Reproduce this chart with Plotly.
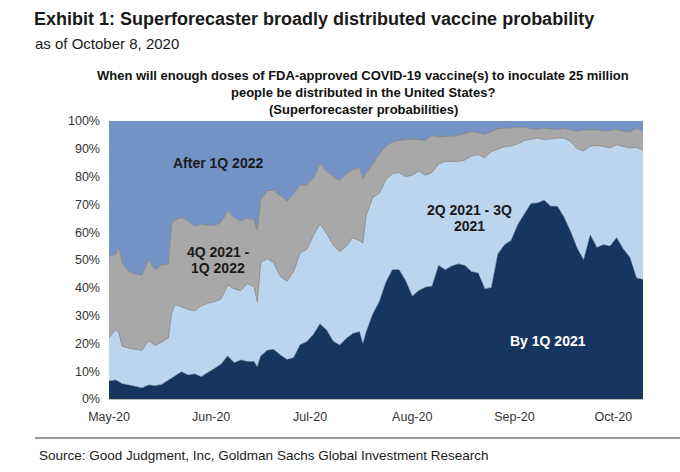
import plotly.graph_objects as go

# ---- data ----
dates = [
    "2020-05-01", "2020-05-03", "2020-05-04", "2020-05-05", "2020-05-07", "2020-05-09",
    "2020-05-11", "2020-05-13", "2020-05-15", "2020-05-17", "2020-05-19", "2020-05-20",
    "2020-05-21", "2020-05-23", "2020-05-25", "2020-05-27", "2020-05-29", "2020-05-31",
    "2020-06-02", "2020-06-04", "2020-06-06", "2020-06-08", "2020-06-10", "2020-06-12",
    "2020-06-14", "2020-06-15", "2020-06-16", "2020-06-18", "2020-06-20", "2020-06-22",
    "2020-06-24", "2020-06-26", "2020-06-28", "2020-06-30", "2020-07-02", "2020-07-04",
    "2020-07-06", "2020-07-08", "2020-07-10", "2020-07-12", "2020-07-14", "2020-07-16",
    "2020-07-17", "2020-07-18", "2020-07-20", "2020-07-22", "2020-07-24", "2020-07-26",
    "2020-07-28", "2020-07-30", "2020-08-01", "2020-08-03", "2020-08-05", "2020-08-07",
    "2020-08-09", "2020-08-11", "2020-08-13", "2020-08-15", "2020-08-17", "2020-08-19",
    "2020-08-21", "2020-08-23", "2020-08-25", "2020-08-27", "2020-08-29", "2020-08-31",
    "2020-09-02", "2020-09-04", "2020-09-06", "2020-09-08", "2020-09-10", "2020-09-12",
    "2020-09-14", "2020-09-16", "2020-09-18", "2020-09-20", "2020-09-22", "2020-09-24",
    "2020-09-26", "2020-09-28", "2020-09-30", "2020-10-02", "2020-10-04", "2020-10-06",
    "2020-10-08", "2020-10-10",
]

# cumulative probability (%) of distribution by 1Q 2021
by_1q2021 = [
    6.5, 6.8, 6.2, 5.5, 5.0, 4.5, 4.0, 5.0, 4.8, 5.2, 6.8, 7.5,
    8.3, 9.8, 8.6, 9.0, 8.0, 9.4, 10.8, 12.5, 15.5, 13.0, 14.0, 13.5,
    13.5, 11.5, 15.4, 17.5, 17.8, 15.8, 14.2, 14.8, 19.5, 20.6, 23.2, 27.0,
    24.8, 20.8, 19.4, 21.8, 23.6, 24.2, 19.8, 24.0, 30.5, 35.0, 42.0, 46.5,
    46.5, 42.5, 37.0, 39.0, 40.2, 40.6, 48.0, 46.5, 47.8, 48.6, 48.0, 45.8,
    45.3, 39.7, 40.0, 52.2, 55.5, 57.0, 62.7, 66.5, 70.3, 70.5, 71.5, 69.3,
    69.3, 65.5, 60.3, 54.3, 50.0, 59.0, 54.5, 55.5, 55.0, 58.0, 54.0, 51.0,
    43.5, 43.0,
]

# cumulative probability (%) by 3Q 2021
by_3q2021 = [
    22.0, 25.0, 24.0, 19.0, 18.3, 17.8, 17.5, 21.0, 19.2, 20.5, 22.0, 31.0,
    34.0, 33.2, 32.2, 31.8, 33.5, 34.5, 35.0, 36.0, 41.0, 39.6, 39.0, 41.5,
    40.5, 35.0, 49.0, 50.5, 49.0, 44.0, 42.4, 45.8, 52.6, 53.8, 58.8, 63.0,
    59.5, 55.5, 53.0, 55.0, 58.0, 57.0, 56.0, 66.0, 72.5, 74.0, 79.0, 81.0,
    81.5, 80.0, 80.5, 82.0, 80.5, 81.5, 84.5, 85.5, 85.5, 85.5, 86.0, 87.5,
    87.9, 86.8, 89.0, 90.0, 90.8, 91.0, 91.8, 93.0, 93.5, 93.9, 93.3, 93.7,
    93.9, 93.9, 92.7, 90.0, 89.3, 91.0, 91.2, 90.9, 90.3, 91.5, 90.9, 90.3,
    90.5, 89.5,
]

# cumulative probability (%) by 1Q 2022
by_1q2022 = [
    51.5, 52.0, 54.5, 48.8, 46.0, 45.0, 44.5, 50.0, 46.5, 48.2, 48.5, 63.0,
    64.3, 65.3, 64.0, 62.0, 63.0, 62.5, 62.5, 63.5, 67.5, 65.2, 64.0, 65.0,
    64.5, 60.5, 71.5, 75.0, 75.0, 73.0, 71.2, 73.8, 77.0, 77.0, 79.5, 84.5,
    82.0, 80.0, 78.5, 81.0, 82.5, 83.3, 79.3, 81.0, 84.5, 88.0, 91.0, 92.5,
    93.0, 93.2, 93.5, 93.3, 93.0, 94.8, 94.3, 94.5, 94.5, 94.7, 95.5, 96.2,
    95.8, 95.2, 96.2, 97.3, 97.5, 97.5, 97.8, 97.8, 97.2, 97.0, 97.5, 97.2,
    96.9, 97.4, 96.8, 96.3, 96.8, 96.9, 96.8, 96.4, 96.6, 96.9, 96.3, 96.0,
    97.3, 96.3,
]

# cumulative total (all outcomes, incl. after 1Q 2022)
total = [100.0] * len(dates)

tick_dates = ["2020-05-01", "2020-06-01", "2020-07-01", "2020-08-01", "2020-09-01", "2020-10-01"]
tick_labels = ["May-20", "Jun-20", "Jul-20", "Aug-20", "Sep-20", "Oct-20"]
y_ticks = [0, 10, 20, 30, 40, 50, 60, 70, 80, 90, 100]
y_tick_labels = ["0%", "10%", "20%", "30%", "40%", "50%", "60%", "70%", "80%", "90%", "100%"]

series_names = ["By 1Q 2021", "2Q 2021 - 3Q 2021", "4Q 2021 - 1Q 2022", "After 1Q 2022"]
colors = ["#17365f", "#bcd5ee", "#a8a8a8", "#7393c7"]

FONT = "Liberation Sans, Arial, sans-serif"

fig = go.Figure()
fig.add_trace(go.Scatter(x=dates, y=by_1q2021, name=series_names[0], mode="lines",
                         line=dict(color=colors[0], width=0.5), fill="tozeroy",
                         fillcolor=colors[0]))
fig.add_trace(go.Scatter(x=dates, y=by_3q2021, name=series_names[1], mode="lines",
                         line=dict(color="#8f8f8f", width=1), fill="tonexty",
                         fillcolor=colors[1]))
fig.add_trace(go.Scatter(x=dates, y=by_1q2022, name=series_names[2], mode="lines",
                         line=dict(color="#8a8a8a", width=1), fill="tonexty",
                         fillcolor=colors[2]))
fig.add_trace(go.Scatter(x=dates, y=total, name=series_names[3], mode="lines",
                         line=dict(color=colors[3], width=0.5), fill="tonexty",
                         fillcolor=colors[3]))

# plot geometry (pixels)
L, R, T, B = 109, 643, 121, 399
W, H = R - L, B - T


def px(x):
    return (x - L) / W


def py(y):
    return (B - y) / H


DARK = "#1a1a1a"
annotations = [
    dict(text="<b>Exhibit 1: Superforecaster broadly distributed vaccine probability</b>",
         x=px(32), y=py(19), xanchor="left", font=dict(size=18, color=DARK)),
    dict(text="as of October 8, 2020", x=px(33), y=py(44), xanchor="left",
         font=dict(size=15, color=DARK)),
    dict(text="<b>When will enough doses of FDA-approved COVID-19 vaccine(s) to inoculate 25 million</b>",
         x=px(363), y=py(76), font=dict(size=13, color="#111111")),
    dict(text="<b>people be distributed in the United States?</b>",
         x=px(363), y=py(93), font=dict(size=13, color="#111111")),
    dict(text="<b>(Superforecaster probabilities)</b>",
         x=px(363), y=py(109), font=dict(size=13, color="#111111")),
    dict(text="<b>After 1Q 2022</b>", x=px(218), y=py(163), font=dict(size=14, color=DARK)),
    dict(text="<b>4Q 2021 -</b>", x=px(218), y=py(252), font=dict(size=14, color=DARK)),
    dict(text="<b>1Q 2022</b>", x=px(218), y=py(268), font=dict(size=14, color=DARK)),
    dict(text="<b>2Q 2021 - 3Q</b>", x=px(469), y=py(210), font=dict(size=14, color=DARK)),
    dict(text="<b>2021</b>", x=px(469), y=py(226), font=dict(size=14, color=DARK)),
    dict(text="<b>By 1Q 2021</b>", x=px(548), y=py(341), font=dict(size=14, color="#ffffff")),
    dict(text="Source: Good Judgment, Inc, Goldman Sachs Global Investment Research",
         x=px(37), y=py(455), xanchor="left", font=dict(size=13.5, color=DARK)),
]
for a in annotations:
    a.setdefault("xanchor", "center")
    a.update(xref="paper", yref="paper", showarrow=False, yanchor="middle")

fig.update_layout(
    width=680, height=472,
    margin=dict(l=L, r=680 - R, t=T, b=472 - B, pad=0),
    paper_bgcolor="white", plot_bgcolor="white",
    showlegend=False,
    font=dict(family=FONT, size=12, color="#333333"),
    annotations=annotations,
    shapes=[dict(type="line", xref="paper", yref="paper", x0=px(35), x1=px(680),
                 y0=py(438), y1=py(438), line=dict(color="#9a9a9a", width=2))],
)
fig.update_xaxes(range=[dates[0], dates[-1]], tickvals=tick_dates, ticktext=tick_labels,
                 showgrid=False, zeroline=False, showline=True, linecolor="#bfbfbf",
                 ticks="", ticklabelstandoff=6, tickfont=dict(size=12.5, color="#333333"))
fig.update_yaxes(range=[0, 100], tickvals=y_ticks, ticktext=y_tick_labels,
                 showgrid=False, zeroline=False, showline=False, ticks="",
                 ticklabelstandoff=8, tickfont=dict(size=12.5, color="#333333"))

fig.write_html("out.html")
